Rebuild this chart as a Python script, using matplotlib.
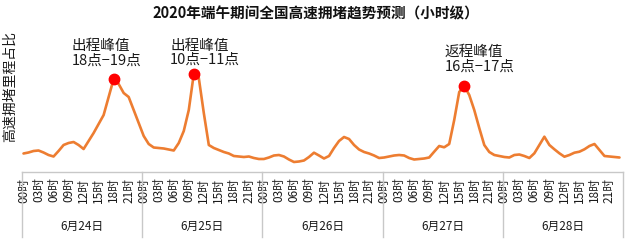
import matplotlib
matplotlib.use("Agg")
import matplotlib.pyplot as plt
import matplotlib.transforms as mtransforms
import numpy as np

plt.rcParams['font.family'] = ['Noto Sans CJK SC', 'DejaVu Sans']

# Hourly share of congested expressway mileage, one list per day
days = ["6月24日", "6月25日", "6月26日", "6月27日", "6月28日"]
day_24 = [1.85, 1.95, 2.1, 2.15, 1.95, 1.7, 1.55, 2.1, 2.7, 2.9, 3.0, 2.7,
          2.3, 3.1, 3.9, 4.8, 5.7, 7.5, 9.3, 8.8, 7.9, 7.5, 6.2, 4.9]
day_25 = [3.6, 2.8, 2.45, 2.4, 2.35, 2.25, 2.15, 2.9, 4.1, 6.2, 9.8, 9.4,
          5.9, 2.7, 2.4, 2.2, 2.0, 1.85, 1.6, 1.55, 1.5, 1.55, 1.4, 1.3]
day_26 = [1.3, 1.45, 1.65, 1.7, 1.55, 1.25, 1.0, 1.05, 1.15, 1.5, 1.93, 1.65,
          1.35, 1.6, 2.4, 3.1, 3.5, 3.3, 2.7, 2.25, 2.0, 1.85, 1.65, 1.4]
day_27 = [1.45, 1.55, 1.65, 1.7, 1.65, 1.4, 1.25, 1.3, 1.35, 1.45, 2.03, 2.6,
          2.47, 2.8, 5.2, 8.0, 8.6, 7.7, 6.2, 4.4, 2.7, 2.0, 1.7, 1.6]
day_28 = [1.5, 1.45, 1.7, 1.75, 1.6, 1.4, 1.87, 2.7, 3.53, 2.7, 2.27, 1.87,
          1.53, 1.7, 1.93, 2.03, 2.27, 2.6, 2.8, 2.2, 1.6, 1.55, 1.5, 1.45]

hour_labels = ["00时", "03时", "06时", "09时", "12时", "15时", "18时", "21时"]

# Peak annotations: (day index, hour, title, period)
peak_days = [0, 1, 3]
peak_hours = [18, 10, 16]
peak_titles = ["出程峰值", "出程峰值", "返程峰值"]
peak_periods = ["18点−19点", "10点−11点", "16点−17点"]
peak_offsets = [(-30, 8), (-17, 5), (-14, 9)]  # text offset in points

values = np.array(day_24 + day_25 + day_26 + day_27 + day_28)
hours = np.arange(len(values))

W, H = 631, 243
fig = plt.figure(figsize=(W / 100, H / 100), dpi=100)
ax_left, ax_right = 22 / W, 623 / W
ax_bottom, ax_top = (H - 172) / H, (H - 25) / H
ax = fig.add_axes([ax_left, ax_bottom, ax_right - ax_left, ax_top - ax_bottom])

line_color = "#ED7D31"
grid_color = "#C8C8C8"
text_color = "#1A1A1A"

ax.plot(hours, values, color=line_color, lw=1.9, solid_joinstyle="round",
        solid_capstyle="round", zorder=3)

ax.set_xlim(-0.3, 119.7)
ax.set_ylim(0, 14.7)
for s in ["top", "right", "left"]:
    ax.spines[s].set_visible(False)
ax.spines["bottom"].set_color(grid_color)
ax.spines["bottom"].set_linewidth(1.0)
ax.set_yticks([])

# Hour tick labels for every day
tick_pos = [d * 24 + h for d in range(len(days)) for h in range(0, 24, 3)]
tick_lab = hour_labels * len(days)
ax.set_xticks(tick_pos)
ax.set_xticklabels(tick_lab, rotation=90, fontsize=8.5, color=text_color)
ax.tick_params(axis="x", length=0, pad=4)

# Day separators and day names below the hour labels
trans = mtransforms.blended_transform_factory(ax.transData, ax.transAxes)
sep_depth = -(237 - 172) / (172 - 25)
for d in range(len(days) + 1):
    xb = d * 24 - 0.3
    ax.plot([xb, xb], [0, sep_depth], transform=trans, color=grid_color,
            lw=1.0, clip_on=False)
for d, name in enumerate(days):
    ax.text(d * 24 + 11.7, -(226 - 172) / (172 - 25), name, transform=trans,
            ha="center", va="center", fontsize=8.5, color=text_color)

# Peak markers and their labels
for d, h, t, p, off in zip(peak_days, peak_hours, peak_titles, peak_periods,
                           peak_offsets):
    idx = d * 24 + h
    ax.plot(hours[idx], values[idx], "o", color="#FF0000", ms=7.5, zorder=4)
    ax.annotate(f"{t}\n{p}", xy=(hours[idx], values[idx]), xytext=off,
                textcoords="offset points", ha="left", va="bottom",
                fontsize=10.5, color=text_color, linespacing=1.05)

fig.text(316 / W, 1 - 13 / H, "2020年端午期间全国高速拥堵趋势预测（小时级）",
         ha="center", va="center", fontsize=10.5, fontweight="bold",
         color="#111111")
fig.text(10 / W, 1 - 86 / H, "高速拥堵里程占比", rotation=90, ha="center",
         va="center", fontsize=10, color=text_color)

fig.savefig("out.png", dpi=100)
